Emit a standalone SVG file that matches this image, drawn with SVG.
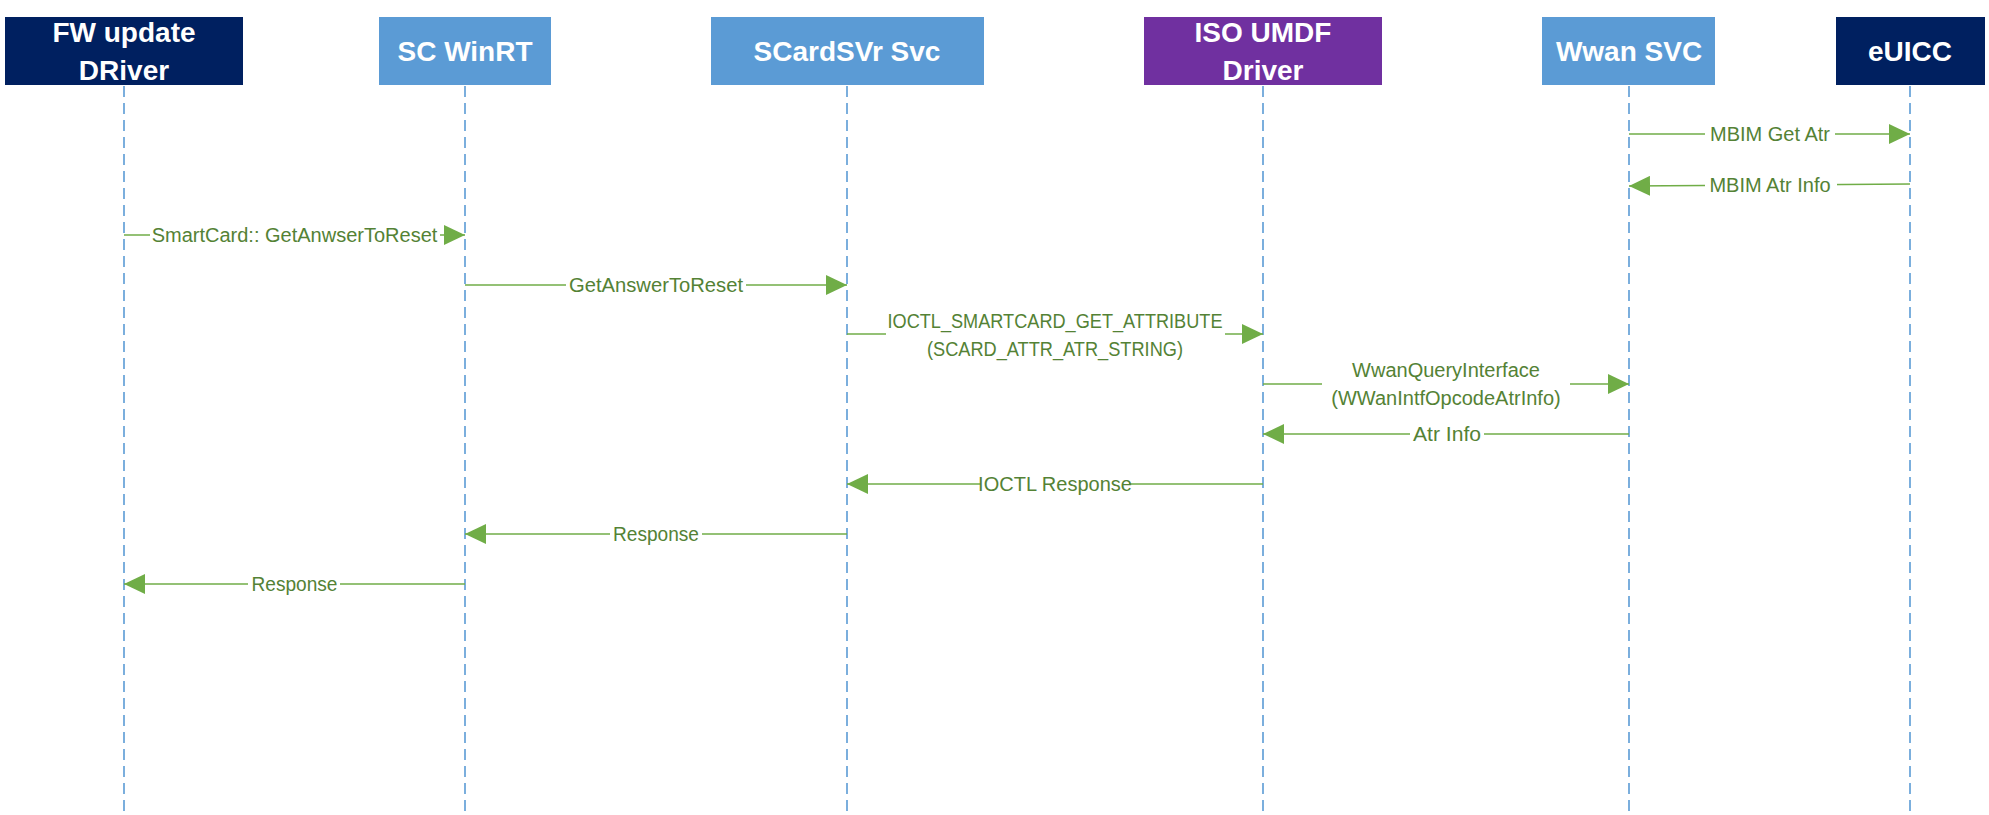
<svg xmlns="http://www.w3.org/2000/svg" width="1989" height="815" viewBox="0 0 1989 815">
<style>
.box-navy{fill:#002060;}
.box-blue{fill:#5B9BD5;}
.box-purple{fill:#7030A0;}
.hdr{font-family:"Liberation Sans",Arial,sans-serif;font-weight:bold;font-size:28px;fill:#ffffff;text-anchor:middle;}
.life{stroke:#5B9BD5;stroke-width:1.6;stroke-dasharray:11 6;fill:none;}
.msg{stroke:#70AD47;stroke-width:1.4;fill:none;}
.lbl{font-family:"Liberation Sans",Arial,sans-serif;font-size:20px;fill:#548235;text-anchor:middle;}
.bg{fill:#ffffff;}
</style>
<defs>
<marker id="ah" viewBox="0 0 21 20" refX="21" refY="10" markerWidth="21" markerHeight="20" markerUnits="userSpaceOnUse" orient="auto">
<path d="M0,0 L21,10 L0,20 Z" fill="#70AD47"/>
</marker>
</defs>

<g id="lifelines">
<line class="life" x1="124" y1="86" x2="124" y2="811"/>
<line class="life" x1="465" y1="86" x2="465" y2="811"/>
<line class="life" x1="847" y1="86" x2="847" y2="811"/>
<line class="life" x1="1263" y1="86" x2="1263" y2="811"/>
<line class="life" x1="1629" y1="86" x2="1629" y2="811"/>
<line class="life" x1="1910" y1="86" x2="1910" y2="811"/>
</g>

<g id="node-fw">
<rect class="box-navy" x="5" y="17" width="238" height="68"/>
<text class="hdr" x="124" y="42">FW update</text>
<text class="hdr" x="124" y="80">DRiver</text>
</g>
<g id="node-scwinrt">
<rect class="box-blue" x="379" y="17" width="172" height="68"/>
<text class="hdr" x="465" y="61">SC WinRT</text>
</g>
<g id="node-scardsvr">
<rect class="box-blue" x="711" y="17" width="273" height="68"/>
<text class="hdr" x="847" y="61">SCardSVr Svc</text>
</g>
<g id="node-iso">
<rect class="box-purple" x="1144" y="17" width="238" height="68"/>
<text class="hdr" x="1263" y="42">ISO UMDF</text>
<text class="hdr" x="1263" y="80">Driver</text>
</g>
<g id="node-wwan">
<rect class="box-blue" x="1542" y="17" width="173" height="68"/>
<text class="hdr" x="1629" y="61">Wwan SVC</text>
</g>
<g id="node-euicc">
<rect class="box-navy" x="1836" y="17" width="149" height="68"/>
<text class="hdr" x="1910" y="61">eUICC</text>
</g>

<g id="connectors">
<line class="msg" x1="1629" y1="134" x2="1910" y2="134" marker-end="url(#ah)"/>
<rect class="bg" x="1705" y="122" width="130" height="24"/>
<text class="lbl" x="1770" y="141">MBIM Get Atr</text>

<line class="msg" x1="1910" y1="184" x2="1629" y2="186" marker-end="url(#ah)"/>
<rect class="bg" x="1705" y="172" width="132" height="24"/>
<text class="lbl" x="1770" y="192">MBIM Atr Info</text>

<line class="msg" x1="124" y1="235" x2="465" y2="235" marker-end="url(#ah)"/>
<rect class="bg" x="150" y="223" width="290" height="24"/>
<text class="lbl" x="294.5" y="242">SmartCard:: GetAnwserToReset</text>

<line class="msg" x1="465" y1="285" x2="847" y2="285" marker-end="url(#ah)"/>
<rect class="bg" x="566" y="273" width="180" height="24"/>
<text class="lbl" x="656" y="292" textLength="174" lengthAdjust="spacingAndGlyphs">GetAnswerToReset</text>

<line class="msg" x1="847" y1="334" x2="1263" y2="334" marker-end="url(#ah)"/>
<rect class="bg" x="886" y="308" width="339" height="54"/>
<text class="lbl" x="1055" y="328" textLength="335" lengthAdjust="spacingAndGlyphs">IOCTL_SMARTCARD_GET_ATTRIBUTE</text>
<text class="lbl" x="1055" y="356" textLength="256" lengthAdjust="spacingAndGlyphs">(SCARD_ATTR_ATR_STRING)</text>

<line class="msg" x1="1263" y1="384" x2="1629" y2="384" marker-end="url(#ah)"/>
<rect class="bg" x="1322" y="358" width="248" height="54"/>
<text class="lbl" x="1446" y="377">WwanQueryInterface</text>
<text class="lbl" x="1446" y="405">(WWanIntfOpcodeAtrInfo)</text>

<line class="msg" x1="1629" y1="434" x2="1263" y2="434" marker-end="url(#ah)"/>
<rect class="bg" x="1410" y="422" width="74" height="24"/>
<text class="lbl" x="1447" y="441" textLength="68" lengthAdjust="spacingAndGlyphs">Atr Info</text>

<line class="msg" x1="1263" y1="484" x2="847" y2="484" marker-end="url(#ah)"/>
<rect class="bg" x="981" y="472" width="148" height="24"/>
<text class="lbl" x="1055" y="491">IOCTL Response</text>

<line class="msg" x1="847" y1="534" x2="465" y2="534" marker-end="url(#ah)"/>
<rect class="bg" x="610" y="522" width="92" height="24"/>
<text class="lbl" x="656" y="541" textLength="86" lengthAdjust="spacingAndGlyphs">Response</text>

<line class="msg" x1="465" y1="584" x2="124" y2="584" marker-end="url(#ah)"/>
<rect class="bg" x="248" y="572" width="92" height="24"/>
<text class="lbl" x="294.5" y="591" textLength="86" lengthAdjust="spacingAndGlyphs">Response</text>
</g>
</svg>
